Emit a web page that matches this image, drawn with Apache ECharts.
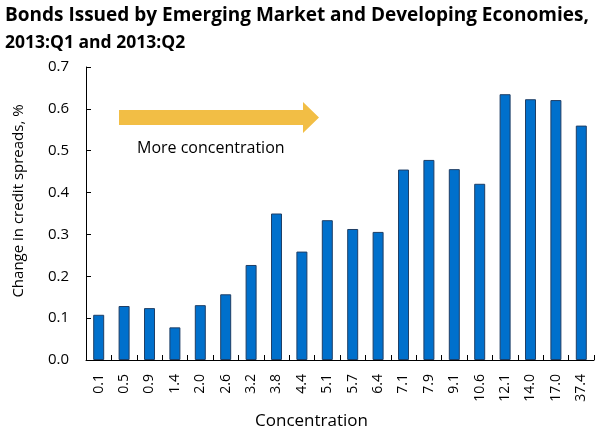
<!DOCTYPE html>
<html><head><meta charset="utf-8">
<script src="https://cdn.jsdelivr.net/npm/echarts@6/dist/echarts.min.js"></script>
<style>html,body{margin:0;padding:0;background:#fff}#c{width:600px;height:435px}</style>
</head><body><div id="c"></div>
<script>
const categories = ['0.1','0.5','0.9','1.4','2.0','2.6','3.2','3.8','4.4','5.1','5.7','6.4','7.1','7.9','9.1','10.6','12.1','14.0','17.0','37.4'];
const spreadChange = [0.108,0.129,0.124,0.078,0.131,0.157,0.227,0.350,0.259,0.334,0.313,0.306,0.455,0.478,0.456,0.421,0.635,0.623,0.621,0.560];
const yTicks = [0, 0.7, 0.1];

const FONT = '"Open Sans", "Noto Sans", sans-serif';
const chart = echarts.init(document.getElementById('c'), null, {renderer: 'canvas'});
chart.setOption({
  animation: false,
  textStyle: {fontFamily: FONT},
  title: [
    {text: 'Bonds Issued by Emerging Market and Developing Economies,', left: 0, top: 1,
     textStyle: {fontFamily: FONT, fontWeight: 'bold', fontSize: 19, color: '#000'}},
    {text: '2013:Q1 and 2013:Q2', left: 0, top: 29,
     textStyle: {fontFamily: FONT, fontWeight: 'bold', fontSize: 17.5, color: '#000'}}
  ],
  grid: {left: 86, right: 6, top: 67, bottom: 71, containLabel: false},
  xAxis: {
    type: 'category', data: categories,
    name: 'Concentration', nameLocation: 'middle', nameGap: 53,
    nameTextStyle: {fontFamily: FONT, fontSize: 17, color: '#000', padding: [0, 57, 0, 0]},
    axisLine: {lineStyle: {color: '#000', width: 1}},
    axisTick: {show: true, inside: true, length: 5, alignWithLabel: false, lineStyle: {color: '#000'}},
    axisLabel: {rotate: 90, fontFamily: FONT, fontSize: 14, color: '#000', margin: 14, interval: 0}
  },
  yAxis: {
    type: 'value', min: yTicks[0], max: yTicks[1], interval: yTicks[2],
    name: 'Change in credit spreads, %', nameLocation: 'middle', nameGap: 60,
    nameTextStyle: {fontFamily: FONT, fontSize: 15, color: '#000', padding: [0, 0, 0, 25]},
    axisLine: {show: true, lineStyle: {color: '#000', width: 1}},
    axisTick: {show: true, inside: true, length: 5, lineStyle: {color: '#000'}},
    splitLine: {show: false},
    axisLabel: {fontFamily: FONT, fontSize: 15, color: '#000', margin: 17,
      formatter: v => v.toFixed(1)}
  },
  series: [{
    type: 'bar', data: spreadChange, barWidth: 11,
    itemStyle: {color: '#0070CC', borderColor: '#1F3F66', borderWidth: 1}
  }],
  graphic: [
    {type: 'polygon', shape: {points: [[119,110],[303,110],[303,102],[319,117.5],[303,133],[303,125],[119,125]]},
     style: {fill: '#F2BE45'}},
    {type: 'text', left: 137, top: 140, style: {text: 'More concentration', fontFamily: FONT, fontSize: 16, fill: '#000'}}
  ]
});
</script></body></html>
